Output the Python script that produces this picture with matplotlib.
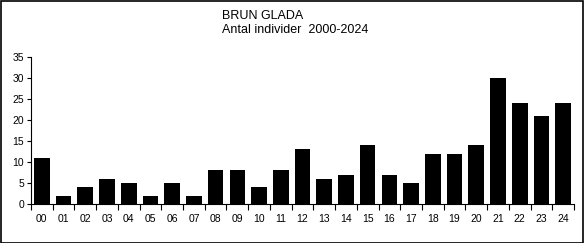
import numpy as np
import matplotlib.pyplot as plt
from matplotlib.patches import Rectangle

plt.rcParams["font.family"] = ["Liberation Sans", "DejaVu Sans"]
plt.rcParams["font.size"] = 7.5

years = ["00", "01", "02", "03", "04", "05", "06", "07", "08", "09", "10", "11", "12",
         "13", "14", "15", "16", "17", "18", "19", "20", "21", "22", "23", "24"]
counts = [11, 2, 4, 6, 5, 2, 5, 2, 8, 8, 4, 8, 13, 6, 7, 14, 7, 5, 12, 12, 14, 30, 24, 21, 24]

fig = plt.figure(figsize=(5.84, 2.43), dpi=100)
ax = fig.add_axes([31 / 584, 1 - 204 / 243, (574 - 31) / 584, (204 - 57) / 243])

x = np.arange(len(years))
ax.bar(x, counts, width=0.72, color="black")

ax.set_xlim(-0.5, len(years) - 0.5)
ax.set_ylim(0, 35)
ax.set_yticks(np.arange(0, 36, 5))
ax.set_xticks(x)
ax.set_xticklabels(years)
ax.set_xticks(np.arange(-0.5, len(years), 1), minor=True)
ax.tick_params(axis="x", which="major", length=0, pad=7)
ax.tick_params(axis="x", which="minor", length=4, width=0.8, direction="out")
ax.tick_params(axis="y", length=3, width=0.8, direction="out", pad=2)
ax.spines[["top", "right"]].set_visible(False)
ax.spines[["left", "bottom"]].set_linewidth(0.8)

fig.text(222 / 584, 1 - 16 / 243, "BRUN GLADA", fontsize=9, va="center", ha="left")
fig.text(222 / 584, 1 - 30 / 243, "Antal individer  2000-2024", fontsize=9, va="center", ha="left")

fig.patches.append(Rectangle((0.001, 0.002), 0.997, 0.995, transform=fig.transFigure,
                             fill=False, edgecolor="black", linewidth=1.2))

fig.savefig("out.png", dpi=100)
